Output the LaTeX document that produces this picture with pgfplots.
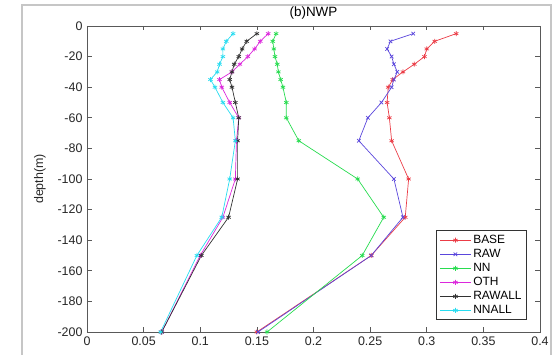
\documentclass[border=0pt]{standalone}
\usepackage{pgfplots}
\pgfplotsset{compat=1.18}
\usepackage{fontspec}
\setmainfont{Liberation Sans}
\definecolor{cbase}{RGB}{235,60,70}
\definecolor{craw}{RGB}{90,70,220}
\definecolor{cnn}{RGB}{40,220,80}
\definecolor{coth}{RGB}{220,40,220}
\definecolor{crawall}{RGB}{50,50,50}
\definecolor{cnnall}{RGB}{40,220,240}
\begin{document}
\begin{tikzpicture}
\useasboundingbox (-87bp,-23bp) rectangle (470bp,332bp);
\draw[gray!45, line width=1.6bp] (-65bp,-30bp) -- (-65bp,327bp) -- (463.7bp,327bp) -- (463.7bp,-30bp);
\begin{axis}[
  at={(0,0)}, anchor=south west,
  scale only axis, width=453bp, height=306bp,
  xmin=0, xmax=0.4, ymin=-200, ymax=0,
  xtick={0,0.05,0.1,0.15,0.2,0.25,0.3,0.35,0.4},
  xticklabels={0,0.05,0.1,0.15,0.2,0.25,0.3,0.35,0.4},
  ytick={-200,-180,-160,-140,-120,-100,-80,-60,-40,-20,0},
  yticklabels={-200,-180,-160,-140,-120,-100,-80,-60,-40,-20,0},
  tick align=inside, major tick length=4.5bp,
  axis line style={gray!70!black, line width=0.6bp},
  every tick/.style={gray!70!black, line width=0.6bp},
  tick label style={font=\fontsize{12.5}{14}\selectfont, text=black!85},
  xticklabel style={yshift=-1bp},
  yticklabel style={xshift=-1bp},
  title={(b)NWP},
  title style={font=\fontsize{13.5}{15}\selectfont, at={(axis description cs:0.5,1)}, anchor=south, yshift=-1bp, inner sep=2bp},
  ylabel={depth(m)},
  every axis y label/.style={at={(axis description cs:-0.1038,0.5)}, rotate=90, anchor=center, font=\fontsize{12.5}{15}\selectfont, text=black!85},
  legend style={at={(axis description cs:0.971,0.039)}, anchor=south east, draw=black!80, line width=0.6bp, font=\fontsize{12}{14}\selectfont, inner xsep=3bp, inner ysep=2.5bp, row sep=0.3bp, cells={anchor=west}},
  legend cell align=left,
  legend image code/.code={\draw[mark repeat=2,mark phase=2] plot coordinates {(0bp,0bp) (15.5bp,0bp) (31bp,0bp)};},
  every axis plot/.append style={line width=0.7bp, mark size=2.5bp},
]
\addplot[cbase, mark=asterisk] coordinates {
(0.326,-5) (0.307,-10) (0.300,-15) (0.298,-20) (0.289,-25) (0.279,-30) (0.270,-35) (0.266,-40) (0.265,-50) (0.267,-60) (0.269,-75) (0.284,-100) (0.281,-125) (0.251,-150) (0.150,-200)};
\addlegendentry{BASE}
\addplot[craw, mark=x] coordinates {
(0.288,-5) (0.268,-10) (0.265,-15) (0.269,-20) (0.271,-25) (0.274,-30) (0.271,-35) (0.269,-40) (0.260,-50) (0.248,-60) (0.240,-75) (0.271,-100) (0.279,-125) (0.251,-150) (0.151,-200)};
\addlegendentry{RAW}
\addplot[cnn, mark=asterisk] coordinates {
(0.167,-5) (0.164,-10) (0.165,-15) (0.166,-20) (0.168,-25) (0.169,-30) (0.171,-35) (0.173,-40) (0.176,-50) (0.176,-60) (0.187,-75) (0.239,-100) (0.262,-125) (0.243,-150) (0.159,-200)};
\addlegendentry{NN}
\addplot[coth, mark=asterisk] coordinates {
(0.160,-5) (0.153,-10) (0.148,-15) (0.142,-20) (0.135,-25) (0.128,-30) (0.117,-35) (0.119,-40) (0.126,-50) (0.134,-60) (0.132,-75) (0.131,-100) (0.120,-125) (0.100,-150) (0.066,-200)};
\addlegendentry{OTH}
\addplot[crawall, mark=asterisk] coordinates {
(0.150,-5) (0.141,-10) (0.137,-15) (0.134,-20) (0.130,-25) (0.128,-30) (0.126,-35) (0.128,-40) (0.131,-50) (0.134,-60) (0.133,-75) (0.133,-100) (0.125,-125) (0.101,-150) (0.066,-200)};
\addlegendentry{RAWALL}
\addplot[cnnall, mark=asterisk] coordinates {
(0.129,-5) (0.123,-10) (0.120,-15) (0.120,-20) (0.117,-25) (0.115,-30) (0.109,-35) (0.113,-40) (0.120,-50) (0.129,-60) (0.131,-75) (0.126,-100) (0.119,-125) (0.097,-150) (0.065,-200)};
\addlegendentry{NNALL}
\end{axis}
\end{tikzpicture}
\end{document}
